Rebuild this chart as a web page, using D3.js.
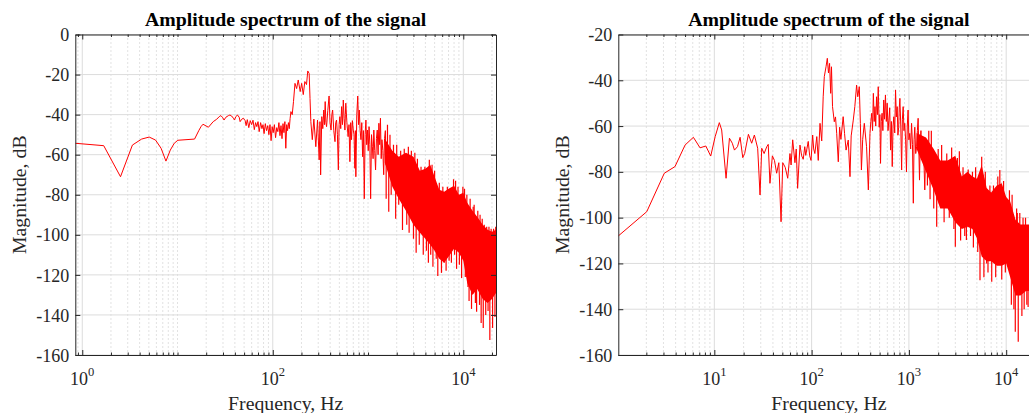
<!DOCTYPE html>
<html><head><meta charset="utf-8">
<script src="https://cdn.jsdelivr.net/npm/d3@7"></script>
<style>
body{margin:0;background:#fff;overflow:hidden}
svg{display:block;font-family:"Liberation Serif","Times New Roman",serif}
</style></head><body>
<svg id="c" width="1029" height="413"></svg>
<script>
// ---------------- DATA ----------------
const titleText = "Amplitude spectrum of the signal";
const xLabelText = "Frequency, Hz";
const yLabelText = "Magnitude, dB";

const leftXTicks = [1, 100, 10000];
const rightXTicks = [10, 100, 1000, 10000];
const leftYTicks = [0, -20, -40, -60, -80, -100, -120, -140, -160];
const rightYTicks = [-20, -40, -60, -80, -100, -120, -140, -160];

// Left spectrum trace (Hz, dB)
const leftFreq = [0.845,1.68,2.52,3.36,4.2,5.04,5.88,6.72,7.56,8.4,9.24,10.08,15.1,16.8,17.64,18.5,21.1,23.7,25.8,27.4,28.5,29.6,30.8,32.2,34.2,35.5,37.0,38.6,39.6,40.9,42.6,44.4,45.4,47.2,49.1,51.3,
  52.5,54,56,58,60,62,64,66,68,70,72,74.5,77,79,81,83.5,86,88.5,91,93.5,96,98.5,101,104,107,110,113,116,119,122,125,128,131,134,137,140,143,146,149,152,155,160,165,171,178,185,194,201,209,217,226,233,241,246,251,260,270,283,295,307,313,318,
  327,335,343,349,355,361,367,378,390,399,409,417,425,437,450,458,467,477,488,497,506,517,528,539,550,561,572,578,584,600,618,631,645,658,671,685,700,713,727,736,745,762,780,795,810,826,843,860,877,895,913,932,950,968,987,1005,1025,1045,1065,1088,1110,1130,1150,1175,1200,1225,1250,1275,1300,1325,1350,1375,1400,1430,1460,1490,1520,1550,1580];
const leftDb = [-54.3,-55.5,-71.0,-55.2,-52.2,-51.2,-52.7,-56.8,-63.2,-57.7,-54.3,-52.8,-52.2,-47.8,-46.0,-44.8,-46.3,-43.5,-42.3,-41.0,-40.5,-41.3,-42.7,-41.3,-40.5,-40.2,-40.7,-41.8,-42.7,-41.0,-40.2,-41.3,-43.5,-42.3,-41.8,-43.0,
  -45.5,-42.5,-46.5,-43,-45,-42.8,-47.5,-44,-46,-43.5,-48.5,-44,-47,-45,-49.5,-44.5,-48,-45.5,-50,-45,-53,-46,-49,-45,-51.5,-46.5,-48.5,-44,-50.5,-45.5,-52,-44.5,-49,-43.5,-56.8,-45,-48,-44,-47,-42,-38.5,-40,-33.5,-24.4,-27,-22.7,-28.5,-24.4,-30,-23.5,-25,-18.2,-19.5,-32,-43.5,-52.5,-42.2,-56,-42.7,-62.6,-43.5,-70.1,
  -41,-47,-37.7,-45,-33.5,-44,-46,-38,-30.7,-44,-47.7,-40,-37.7,-48,-53.5,-44,-42.7,-50,-67.6,-45,-41,-47,-36,-45,-32.7,-42,-47.7,-40,-34.3,-44,-51,-45,-63.5,-44,-52.5,-43,-47.7,-50,-66.8,-48,-71,-40,-30.7,-45,-37.7,-48,-52.5,-44,-61,-48,-82,-50,-42.7,-55,-47.7,-58,-46,-55,-82,-50,-56,-62,-47.7,-58,-67.6,-52,-47.7,-60,-44.3,-55,-41.8,-62,-52.5,-58,-70,-52,-48,-65,-60];

// Left dense band (Hz, upper dB, lower dB)
const leftBandFreq = [1500,1800,2100,2500,3000,3500,4000,4500,5000,5600,6300,7000,8000,9000,10000,11000,12500,14000,16000,18000,20000,22050];
const leftBandHi = [-52,-58,-61,-59,-61,-68,-67,-65,-71,-77.5,-78.5,-77,-75.5,-80,-79,-84,-88,-91,-95,-97.5,-98.5,-97.5];
const leftBandLo = [-64,-76,-82,-88,-95,-99,-102,-105,-108,-112,-114,-111,-107,-109,-113,-124,-130,-127,-132,-134,-132,-129];

// Left isolated spikes (Hz, dB tip)
const leftSpikeFreq = [1550,1600,1650,1700,1750,1850,1950,2000,2100,2200,2300,2400,2550,2650,2700,2850,3000,3100,3200,3300,3450,3600,3800,3950,4100,4300,4400,4550,4700,4800,5000,5200,5400,5600,5900,6100,6300,6600,6800,7100,7500,7900,8100,8300,8500,8800,9100,9600,9900,10300,10500,10900,11200,11500,11800,12200,12700,13000,13400,13800,14200,14800,15000,15400,15800,16200,16600,17200,17600,18200,18600,19000,19600,20300,20800,21500,21900];
const leftSpikeDb = [-82,-45,-88.5,-50,-80,-55,-92,-55,-85,-58,-97.6,-57,-95,-56,-99,-58,-102,-59,-109,-62,-105,-66,-110,-66,-108,-114,-62.5,-110,-65,-116,-68,-112,-120.5,-74,-119,-76,-114,-118,-76,-113,-114,-72.3,-110,-73,-117,-76,-115,-121.6,-76,-77,-121,-80,-126,-133,-82,-137,-86,-85,-134,-138.4,-88,-135,-90,-144,-92,-146.5,-95,-140,-96,-138,-96,-152.5,-97,-146.5,-97,-141,-96];

// Right spectrum trace (Hz, dB)
const rightFreq = [1.03,2.02,3.06,3.94,5.0,6.09,7.13,8.17,9.18,10.2,11.25,11.9,13.2,14.3,15.3,16.1,17.3,18.4,19.6,20.5,22.4,24.2,25.8,27.9,29.5,30.7,32.5,34.6,35.8,37.3,39.5,41.5,43.7,46,48.5,50.5,53.5,56.8,59.9,61.5,63.9,67.4,69.5,71.8,75.9,79,82,85,87,92.3,95.5,98.6,102.5,105,108,113,117,122,127,131.5,135,140.6,145,149,153,157,160,164,171,176,181,188,194,200,211,218,226,238,248,255,268,278,290,298,309,317,325,335,348,367,383,
  398,406,415,423,431,440,448,456,465,475,484,495,503,511,520,530,540,551,562,574,586,598,610,622,635,648,661,674,687,700,715,729,743,758,771,785,796,808,825,842,857,873,890,906,925,944,962,981,1000,1020,1042,1065,1088,1110,1130,1150,1175,1200,1222,1244,1265,1285,1308,1330,1355,1380,1420,1456,1490,1520,1550,1580];
const rightDb = [-108,-97.4,-80.6,-77.7,-68.3,-64.9,-69.5,-68.7,-73.1,-64.6,-58.5,-61.7,-82.8,-65.3,-67.5,-70.5,-69,-64.9,-73.8,-72,-63.6,-67.5,-63.9,-69.7,-90.1,-69.7,-72,-69,-68,-85,-73,-75,-80.6,-76,-101.8,-76,-78,-82.8,-72,-77,-66,-76,-70,-87.2,-68.3,-73,-74.5,-69,-72.8,-66.7,-73,-75,-63.9,-70,-72,-64.6,-75,-58.8,-66.5,-47.2,-38.4,-34.1,-30.4,-36.8,-32.6,-45.7,-34.1,-51.5,-58.1,-56,-63.2,-75.6,-60.5,-65.8,-55.9,-63.2,-70.5,-66.1,-82.1,-64.3,-57.4,-51.5,-42.1,-47.2,-42.8,-58.8,-79.2,-65.8,-58.8,-69,-87.9,
  -63.2,-58,-54.4,-62,-45.7,-58,-51.5,-60,-47.2,-55,-42.8,-60.5,-55,-76.3,-58,-54.4,-62,-48.6,-57,-46.4,-58,-50,-62,-57.4,-52,-70.5,-58,-77.7,-60,-55.9,-63,-44.2,-56,-51.5,-64,-60.5,-52,-47.9,-60,-79.2,-57,-51.5,-62,-58.8,-66,-80,-60,-53,-66,-63.2,-70,-58.8,-68,-93.7,-66,-60.5,-72,-69,-62,-56.6,-70,-83.6,-66,-62,-74,-65.8,-72,-87.9,-70,-66,-76,-80];

// Right dense band
const rightBandFreq = [1200,1500,1800,2100,2500,3000,3500,4000,4500,5000,5600,6300,7000,8000,9000,10000,11000,12500,14000,16000,18000,20000,22050];
const rightBandHi = [-63,-65,-70,-75,-75,-73,-82,-80,-82,-83,-77,-87,-89,-86,-85,-91,-93,-101,-103,-103,-103,-103,-103];
const rightBandLo = [-70,-80,-88,-96,-96,-102,-105,-104,-105,-109,-117,-119,-119,-121,-121,-120,-126,-134,-134,-132,-132,-132,-132];

// Right isolated spikes
const rightSpikeFreq = [1550,1600,1650,1700,1800,1930,2000,2170,2300,2450,2600,2750,2900,3000,3150,3300,3400,3600,3750,3900,4070,4300,4500,4600,4850,5100,5380,5600,5900,6100,6300,6500,6800,7100,7400,7800,8200,8600,9000,9400,9800,10500,10800,11300,11500,12000,12400,12800,13000,13300,13800,14500,14900,15300,15800,16300,16800,17500];
const rightSpikeDb = [-86,-62,-92,-62,-96,-104,-70,-68.3,-102,-72,-100,-69.4,-105,-112.7,-74,-71,-110,-78,-108,-109.8,-79,-108,-80,-113,-78,-115,-127.3,-73.4,-126,-80,-120,-124,-86,-128,-86,-126,-82,-79.2,-127,-84,-124,-121.4,-88,-138,-90,-140,-149.8,-96,-98,-154.2,-98,-143,-100,-140,-100,-138,-139,-138.9];

// ---------------- DRAW ----------------
const svg = d3.select("#c");
const AX = "#262626", RED = "#ff0000";

function zip(f, v) { return f.map((d, i) => ({f: d, v: v[i]})); }

function panel(cfg) {
  const g = svg.append("g");
  const x = d3.scaleLog().domain(cfg.xDomain).range([cfg.left, cfg.right]);
  const y = d3.scaleLinear().domain(cfg.yDomain).range([cfg.bottom, cfg.top]);
  const H = cfg.bottom - cfg.top;

  const minors = [];
  for (let k = Math.floor(Math.log10(cfg.xDomain[0])); k <= Math.ceil(Math.log10(cfg.xDomain[1])); k++)
    for (let m = 1; m < 10; m++) {
      const v = +(m * Math.pow(10, k)).toPrecision(6);
      if (v >= cfg.xDomain[0] && v <= cfg.xDomain[1] && !cfg.xTicks.includes(v)) minors.push(v);
    }

  const clipId = "clip" + cfg.id;
  svg.append("clipPath").attr("id", clipId).append("rect")
    .attr("x", cfg.left).attr("y", cfg.top).attr("width", cfg.right - cfg.left).attr("height", H);

  const grid = g.append("g");
  grid.selectAll(".gmin").data(minors).join("line")
    .attr("x1", d => x(d)).attr("x2", d => x(d)).attr("y1", cfg.top).attr("y2", cfg.bottom)
    .attr("stroke", "#c4c4c4").attr("stroke-width", 1).attr("stroke-dasharray", "1,3");
  grid.selectAll(".gmaj").data(cfg.xTicks).join("line")
    .attr("x1", d => x(d)).attr("x2", d => x(d)).attr("y1", cfg.top).attr("y2", cfg.bottom)
    .attr("stroke", "#dcdcdc").attr("stroke-width", 1);
  grid.selectAll(".gy").data(cfg.yTicks).join("line")
    .attr("x1", cfg.left).attr("x2", cfg.right).attr("y1", d => y(d)).attr("y2", d => y(d))
    .attr("stroke", "#dcdcdc").attr("stroke-width", 1);

  const dg = g.append("g").attr("clip-path", `url(#${clipId})`);
  const band = cfg.bandFreq.map((f, i) => ({f, hi: cfg.bandHi[i], lo: cfg.bandLo[i]}));
  dg.append("path").datum(band)
    .attr("d", d3.area().x(d => x(d.f)).y0(d => y(d.lo)).y1(d => y(d.hi)))
    .attr("fill", RED);
  const hiS = d3.scaleLog().domain(cfg.bandFreq).range(cfg.bandHi);
  const loS = d3.scaleLog().domain(cfg.bandFreq).range(cfg.bandLo);
  dg.selectAll(".spk").data(zip(cfg.spikeFreq, cfg.spikeDb)).join("line")
    .attr("x1", d => x(d.f)).attr("x2", d => x(d.f))
    .attr("y1", d => y(d.v)).attr("y2", d => y((hiS(d.f) + loS(d.f)) / 2))
    .attr("stroke", RED).attr("stroke-width", 1.2);
  dg.append("path").datum(zip(cfg.freq, cfg.db))
    .attr("d", d3.line().x(d => x(d.f)).y(d => y(d.v)))
    .attr("fill", "none").attr("stroke", RED).attr("stroke-width", 1);

  const fontTick = 18;
  const ax = g.append("g").attr("color", AX);
  ax.append("g").attr("transform", `translate(0,${cfg.bottom})`)
    .call(d3.axisBottom(x).tickValues(cfg.xTicks).tickSizeInner(-5).tickSizeOuter(0).tickFormat(""));
  ax.append("g").attr("transform", `translate(0,${cfg.bottom})`)
    .call(d3.axisBottom(x).tickValues(minors).tickSizeInner(-2.5).tickSizeOuter(0).tickFormat(""))
    .select(".domain").remove();
  ax.append("g").attr("transform", `translate(0,${cfg.top})`)
    .call(d3.axisTop(x).tickValues(cfg.xTicks).tickSizeInner(-5).tickSizeOuter(0).tickFormat(""));
  ax.append("g").attr("transform", `translate(0,${cfg.top})`)
    .call(d3.axisTop(x).tickValues(minors).tickSizeInner(-2.5).tickSizeOuter(0).tickFormat(""))
    .select(".domain").remove();
  const left = ax.append("g").attr("transform", `translate(${cfg.left},0)`)
    .call(d3.axisLeft(y).tickValues(cfg.yTicks).tickSizeInner(-5).tickSizeOuter(0).tickPadding(6).tickFormat(d => String(d)));
  left.attr("font-family", null).attr("font-size", null);
  left.selectAll("text").attr("font-size", fontTick).attr("fill", AX).attr("dy", "0.34em");
  ax.append("g").attr("transform", `translate(${cfg.right},0)`)
    .call(d3.axisRight(y).tickValues(cfg.yTicks).tickSizeInner(-5).tickSizeOuter(0).tickFormat(""));
  ax.selectAll(".domain").attr("stroke", AX).attr("stroke-width", 1);
  ax.selectAll(".tick line").attr("stroke", AX);

  const xl = g.append("g").attr("fill", AX).attr("font-size", fontTick);
  xl.selectAll("text").data(cfg.xTicks).join("text")
    .attr("x", d => x(d)).attr("y", cfg.bottom + 30).attr("text-anchor", "middle")
    .each(function (d) {
      const t = d3.select(this);
      t.append("tspan").text("10");
      t.append("tspan").attr("dy", -9).attr("font-size", 12.6).text(Math.round(Math.log10(d)));
    });

  const cx = (cfg.left + cfg.right) / 2;
  g.append("text").attr("x", cx).attr("y", 26).attr("text-anchor", "middle")
    .attr("font-weight", "bold").attr("font-size", 19.8).attr("fill", "#000").text(titleText);
  g.append("text").attr("x", cx).attr("y", 410).attr("text-anchor", "middle")
    .attr("font-size", 19.8).attr("fill", AX).text(xLabelText);
  g.append("text").attr("transform", `translate(${cfg.left - 49},${(cfg.top + cfg.bottom) / 2}) rotate(-90)`)
    .attr("text-anchor", "middle").attr("font-size", 19.8).attr("fill", AX).text(yLabelText);
}

panel({id: "L", left: 75.3, right: 496, top: 34.5, bottom: 355,
  xDomain: [0.845, 22050], yDomain: [-160, 0], xTicks: leftXTicks, yTicks: leftYTicks,
  freq: leftFreq, db: leftDb, bandFreq: leftBandFreq, bandHi: leftBandHi, bandLo: leftBandLo,
  spikeFreq: leftSpikeFreq, spikeDb: leftSpikeDb});
panel({id: "R", left: 618.3, right: 1039.6, top: 34.5, bottom: 355,
  xDomain: [1.03, 22050], yDomain: [-160, -20], xTicks: rightXTicks, yTicks: rightYTicks,
  freq: rightFreq, db: rightDb, bandFreq: rightBandFreq, bandHi: rightBandHi, bandLo: rightBandLo,
  spikeFreq: rightSpikeFreq, spikeDb: rightSpikeDb});
</script>
</body></html>
